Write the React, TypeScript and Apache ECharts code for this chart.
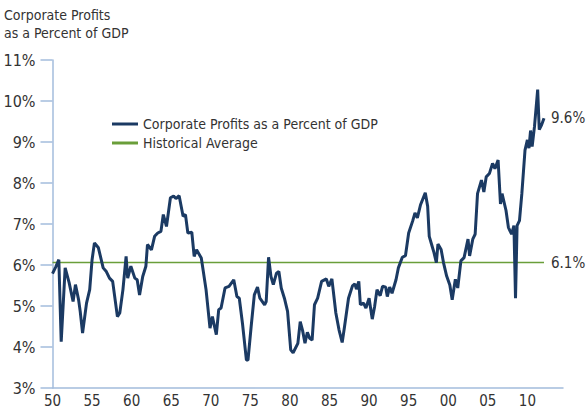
import React, { useEffect, useRef } from "react";
import * as echarts from "echarts";

const years = [
  1950.0, 1950.4, 1950.8, 1951.1, 1951.6, 1952.1, 1952.6, 1952.9, 1953.3, 1953.5,
  1953.8, 1954.3, 1954.7, 1955.0, 1955.3, 1955.8, 1956.4, 1956.8, 1957.2, 1957.6,
  1958.2, 1958.5, 1958.9, 1959.3, 1959.5, 1959.9, 1960.4, 1960.7, 1961.0, 1961.4,
  1961.8, 1962.0, 1962.5, 1962.9, 1963.3, 1963.7, 1964.0, 1964.4, 1964.9, 1965.3,
  1965.6, 1966.0, 1966.5, 1966.8, 1967.1, 1967.6, 1967.9, 1968.2, 1968.8, 1969.4,
  1969.9, 1970.2, 1970.7, 1971.0, 1971.3, 1971.8, 1972.3, 1972.9, 1973.3, 1973.6,
  1974.0, 1974.5, 1974.7, 1975.1, 1975.5, 1975.9, 1976.2, 1976.8, 1977.0, 1977.3,
  1977.6, 1977.9, 1978.3, 1978.6, 1978.9, 1979.3, 1979.7, 1980.1, 1980.4, 1981.0,
  1981.3, 1981.6, 1981.9, 1982.2, 1982.5, 1982.8, 1983.1, 1983.5, 1984.0, 1984.6,
  1984.9, 1985.3, 1985.8, 1986.2, 1986.6, 1986.9, 1987.4, 1987.9, 1988.2, 1988.4,
  1988.7, 1988.9, 1989.3, 1989.6, 1990.0, 1990.4, 1990.7, 1991.0, 1991.4, 1991.7,
  1992.1, 1992.3, 1992.6, 1992.9, 1993.4, 1993.7, 1994.2, 1994.6, 1995.0, 1995.5,
  1995.8, 1996.1, 1996.5, 1997.1, 1997.4, 1997.6, 1997.9, 1998.2, 1998.5, 1998.7,
  1999.1, 1999.4, 1999.8, 2000.2, 2000.5, 2000.9, 2001.2, 2001.6, 2002.0, 2002.5,
  2002.7, 2003.1, 2003.4, 2003.7, 2004.2, 2004.5, 2004.8, 2005.2, 2005.6, 2005.9,
  2006.3, 2006.6, 2006.8, 2007.3, 2007.6, 2008.0, 2008.3, 2008.5, 2008.7, 2009.0,
  2009.3, 2009.7, 2010.0, 2010.2, 2010.4, 2010.6, 2010.9, 2011.3, 2011.5, 2011.8,
  2012.1,
];

// Corporate profits as a percent of GDP (%)
const profitPct = [
  5.79, 5.95, 6.13, 4.13, 5.93, 5.57, 5.11, 5.52, 5.15, 4.87,
  4.34, 5.07, 5.40, 6.13, 6.54, 6.42, 5.93, 5.84, 5.68, 5.60,
  4.74, 4.83, 5.40, 6.21, 5.68, 5.97, 5.68, 5.64, 5.27, 5.72,
  5.97, 6.50, 6.37, 6.70, 6.78, 6.82, 7.23, 6.94, 7.64, 7.68,
  7.62, 7.69, 7.19, 7.23, 6.78, 6.80, 6.21, 6.37, 6.17, 5.40,
  4.46, 4.74, 4.30, 4.91, 4.95, 5.44, 5.48, 5.64, 5.23, 5.19,
  4.58, 3.68, 3.68, 4.50, 5.27, 5.46, 5.19, 5.03, 5.11, 6.19,
  5.72, 5.52, 5.80, 5.84, 5.44, 5.19, 4.87, 3.93, 3.86, 4.09,
  4.62, 4.40, 4.09, 4.36, 4.21, 4.17, 5.03, 5.19, 5.60, 5.66,
  5.48, 5.66, 4.83, 4.42, 4.11, 4.50, 5.19, 5.49, 5.54, 5.41,
  5.60, 5.03, 5.07, 4.95, 5.19, 4.68, 4.99, 5.40, 5.25, 5.48,
  5.46, 5.23, 5.46, 5.31, 5.64, 5.93, 6.19, 6.23, 6.78, 7.07,
  7.27, 7.15, 7.47, 7.76, 7.43, 6.70, 6.50, 6.30, 6.06, 6.51,
  6.38, 6.06, 5.73, 5.51, 5.15, 5.65, 5.44, 6.10, 6.18, 6.63,
  6.22, 6.63, 6.75, 7.74, 8.07, 7.78, 8.15, 8.23, 8.48, 8.35,
  8.56, 7.49, 7.74, 7.33, 6.92, 6.75, 6.96, 5.19, 6.96, 7.08,
  7.74, 8.80, 9.05, 8.85, 9.28, 8.89, 9.38, 10.28, 9.30, 9.42,
  9.58,
];

const historicalAverage = 6.06;
const seriesNames = ["Corporate Profits as a Percent of GDP", "Historical Average"];
const yearTicks = [1950, 1955, 1960, 1965, 1970, 1975, 1980, 1985, 1990, 1995, 2000, 2005, 2010];
const titleLines = ["Corporate Profits", "as a Percent of GDP"];

const FONT = "'DejaVu Sans Condensed', 'DejaVu Sans', sans-serif";
const NAVY = "#1b3a63";
const GREEN = "#6a9e3a";
const AXIS = "#a3bcdc";
const TEXT = "#333333";

export default function App() {
  const ref = useRef<HTMLDivElement>(null);

  useEffect(() => {
    if (!ref.current) return;
    const chart = echarts.init(ref.current, undefined, { renderer: "svg" });
    const lastYear = years[years.length - 1];
    const lastVal = profitPct[profitPct.length - 1];

    const endLabel = (text: string) => ({
      show: true,
      distance: 7,
      formatter: () => text,
      fontFamily: FONT,
      fontSize: 15,
      color: TEXT,
    });

    chart.setOption({
      animation: false,
      textStyle: { fontFamily: FONT },
      title: {
        text: titleLines.join("\n"),
        left: 4,
        top: 6,
        padding: 0,
        textStyle: { fontFamily: FONT, fontSize: 14, lineHeight: 18, fontWeight: "normal", color: TEXT },
      },
      legend: {
        orient: "vertical",
        left: 107,
        top: 112,
        itemWidth: 26,
        itemHeight: 3,
        itemGap: 5,
        icon: "rect",
        textStyle: { fontFamily: FONT, fontSize: 14, color: TEXT },
        data: seriesNames,
      },
      grid: { left: 52.5, right: 25, top: 60, bottom: 26, containLabel: false },
      xAxis: {
        type: "value",
        min: 1950,
        max: 2014.5,
        interval: 5,
        axisLine: { lineStyle: { color: AXIS, width: 1.5 } },
        axisTick: { show: false },
        splitLine: { show: false },
        axisLabel: {
          showMaxLabel: false,
          margin: 5,
          fontFamily: FONT,
          fontSize: 15,
          color: TEXT,
          formatter: (v: number) => (yearTicks.includes(v) ? String(v % 100).padStart(2, "0") : ""),
        },
      },
      yAxis: {
        type: "value",
        min: 3,
        max: 11,
        interval: 1,
        axisLine: { show: true, lineStyle: { color: AXIS, width: 1.5 } },
        axisTick: { show: true, inside: false, length: 12, lineStyle: { color: AXIS, width: 1.5 } },
        splitLine: { show: false },
        axisLabel: { margin: 17, fontFamily: FONT, fontSize: 16, color: TEXT, formatter: "{value}%" },
      },
      series: [
        {
          name: seriesNames[0],
          type: "line",
          data: years.map((y, i) => [y, profitPct[i]]),
          showSymbol: false,
          symbol: "none",
          color: NAVY,
          lineStyle: { color: NAVY, width: 3 },
          z: 3,
          endLabel: endLabel(lastVal.toFixed(1) + "%"),
        },
        {
          name: seriesNames[1],
          type: "line",
          data: [
            [years[0], historicalAverage],
            [lastYear, historicalAverage],
          ],
          showSymbol: false,
          symbol: "none",
          color: GREEN,
          lineStyle: { color: GREEN, width: 1.5 },
          z: 2,
          endLabel: endLabel(historicalAverage.toFixed(1) + "%"),
        },
      ],
    });

    return () => chart.dispose();
  }, []);

  return (
    <div
      ref={ref}
      style={{ position: "fixed", left: 0, top: 0, width: 588, height: 414, background: "#fff" }}
    />
  );
}
